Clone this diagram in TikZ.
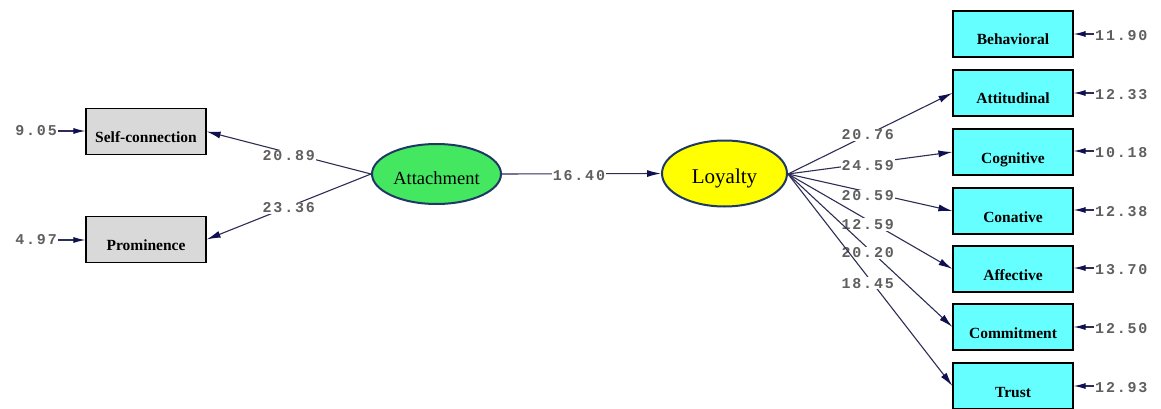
\documentclass[tikz,border=0pt]{standalone}
\usepackage{fontspec}
\setmainfont{Liberation Serif}
\newfontfamily\nummono{Liberation Mono}[LetterSpace=12]
\usetikzlibrary{shapes.geometric,arrows.meta}

\definecolor{pathnavy}{RGB}{45,45,85}
\definecolor{tipnavy}{RGB}{16,16,80}
\definecolor{edgeblue}{RGB}{31,56,100}
\definecolor{obsgray}{RGB}{217,217,217}
\definecolor{obscyan}{RGB}{102,255,255}
\definecolor{latgreen}{RGB}{68,232,96}
\definecolor{latyellow}{RGB}{255,255,0}
\definecolor{numgray}{RGB}{95,95,95}

\tikzset{
  obsbox/.style={draw=black, line width=1.2pt, rectangle, minimum width=120pt,
    minimum height=46pt, inner sep=0pt, text height=22pt, text depth=0pt,
    font=\fontsize{15.5}{15.5}\selectfont\bfseries},
  leftbox/.style={obsbox, fill=obsgray},
  rightbox/.style={obsbox, fill=obscyan},
  latent/.style={draw=edgeblue, line width=2pt, ellipse, inner sep=0pt,
    text height=20pt, text depth=0pt},
  path/.style={draw=pathnavy, line width=1.1pt,
    -{Latex[length=14pt,width=7pt,color=tipnavy]}},
  errpath/.style={draw=pathnavy, line width=1.1pt,
    -{Latex[length=12pt,width=6pt,color=tipnavy]}},
  num/.style={font=\nummono\bfseries\fontsize{15}{15}\selectfont, text=numgray,
    fill=white, inner sep=1pt},
  errnum/.style={font=\nummono\bfseries\fontsize{15}{15}\selectfont, text=numgray,
    inner sep=1pt}
}

\begin{document}
\begin{tikzpicture}[x=1pt,y=-1pt]
\useasboundingbox (0,0) rectangle (1161,409);

% latent variables
\node[latent, fill=latgreen, minimum width=129pt, minimum height=60pt,
  font=\fontsize{18.5}{18.5}\selectfont] (att) at (436.5,174) {Attachment};
\node[latent, fill=latyellow, minimum width=125pt, minimum height=66pt,
  font=\fontsize{21}{21}\selectfont] (loy) at (724.5,173.5) {Loyalty};

% attachment indicators
\node[leftbox] (sc) at (146,131.5) {Self-connection};
\node[leftbox] (pr) at (146,239.5) {Prominence};

% loyalty indicators
\node[rightbox] (beh) at (1013,34) {Behavioral};
\node[rightbox] (ati) at (1013,93) {Attitudinal};
\node[rightbox] (cog) at (1013,152) {Cognitive};
\node[rightbox] (con) at (1013,211) {Conative};
\node[rightbox] (aff) at (1013,269) {Affective};
\node[rightbox] (com) at (1013,327) {Commitment};
\node[rightbox] (tru) at (1013,386) {Trust};

% loadings of Attachment
\draw[path] (att.west) -- node[num, pos=0.5, yshift=-3pt] {20.89} (sc.east);
\draw[path] (att.west) -- node[num, pos=0.5, yshift=-1pt] {23.36} (pr.east);

% structural path
\draw[path] (att.east) -- node[num, pos=0.484, yshift=-2pt] {16.40} (loy.west);

% loadings of Loyalty
\coordinate (fan) at (788,174);
\draw[path] (fan) -- node[num, pos=0.485, yshift=0pt] {20.76} (ati.west);
\draw[path] (fan) -- node[num, pos=0.485, yshift=-2pt] {24.59} (cog.west);
\draw[path] (fan) -- node[num, pos=0.485, yshift=-4pt] {20.59} (con.west);
\draw[path] (fan) -- node[num, pos=0.485, yshift=-4.5pt] {12.59} (aff.west);
\draw[path] (fan) -- node[num, pos=0.485, yshift=-4.5pt] {20.20} (com.west);
\draw[path] (fan) -- node[num, pos=0.485, yshift=-6.5pt] {18.45} (tru.west);

% error variances, left
\node[errnum, anchor=east] (esc) at (58,131) {9.05};
\node[errnum, anchor=east] (epr) at (58,240) {4.97};
\draw[errpath] (esc.east) -- (sc.west |- esc.east);
\draw[errpath] (epr.east) -- (pr.west |- epr.east);

% error variances, right
\node[errnum, anchor=west] (ebeh) at (1094,36) {11.90};
\node[errnum, anchor=west] (eati) at (1094,95) {12.33};
\node[errnum, anchor=west] (ecog) at (1094,153) {10.18};
\node[errnum, anchor=west] (econ) at (1094,212) {12.38};
\node[errnum, anchor=west] (eaff) at (1094,270) {13.70};
\node[errnum, anchor=west] (ecom) at (1094,329) {12.50};
\node[errnum, anchor=west] (etru) at (1094,388) {12.93};
\draw[errpath] ([yshift=2pt]ebeh.west) -- ([yshift=2pt]beh.east |- ebeh.west);
\draw[errpath] ([yshift=2pt]eati.west) -- ([yshift=2pt]ati.east |- eati.west);
\draw[errpath] ([yshift=2pt]ecog.west) -- ([yshift=2pt]cog.east |- ecog.west);
\draw[errpath] ([yshift=2pt]econ.west) -- ([yshift=2pt]con.east |- econ.west);
\draw[errpath] ([yshift=2pt]eaff.west) -- ([yshift=2pt]aff.east |- eaff.west);
\draw[errpath] ([yshift=2pt]ecom.west) -- ([yshift=2pt]com.east |- ecom.west);
\draw[errpath] ([yshift=2pt]etru.west) -- ([yshift=2pt]tru.east |- etru.west);
\end{tikzpicture}
\end{document}
